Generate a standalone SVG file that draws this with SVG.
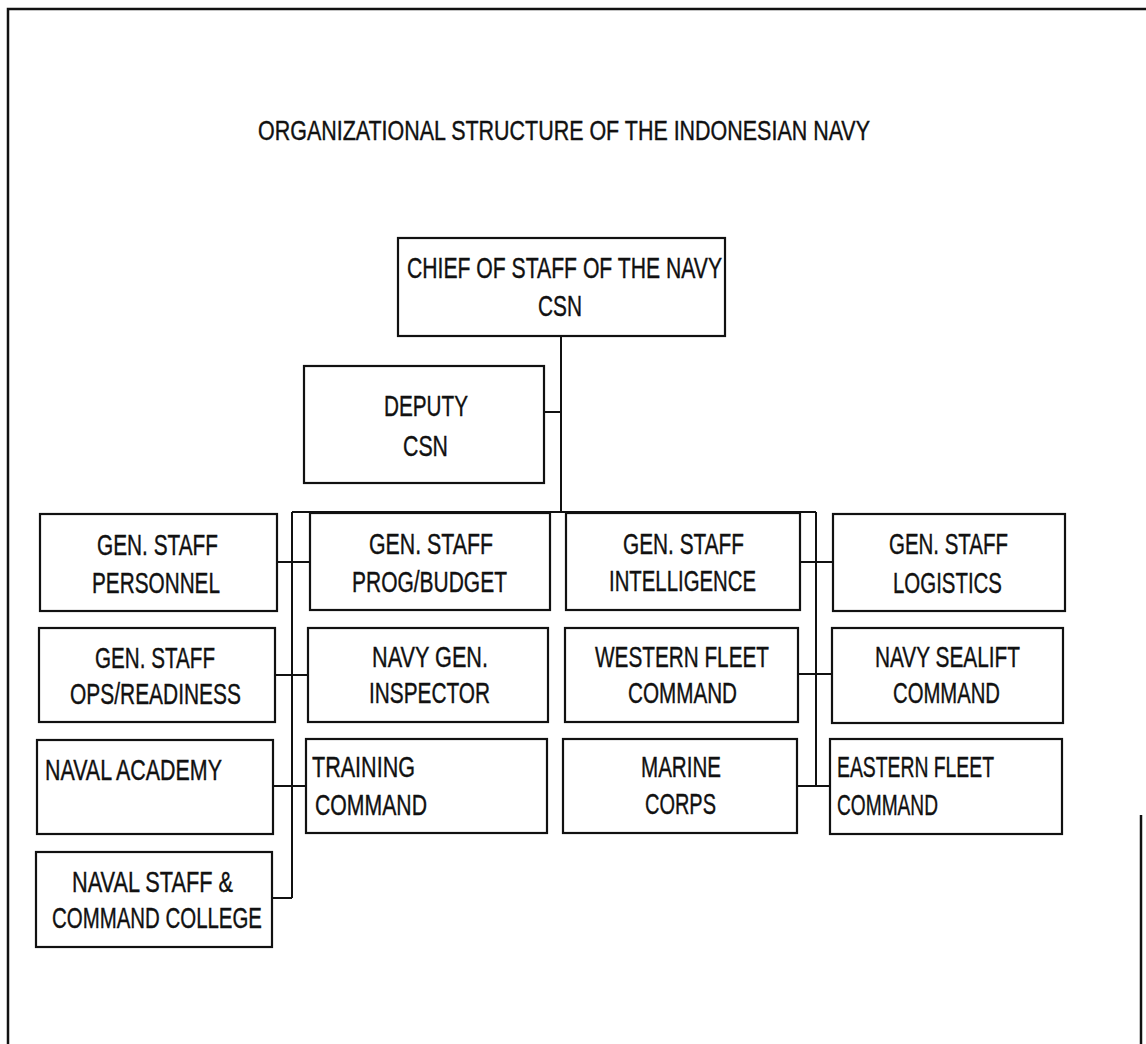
<svg xmlns="http://www.w3.org/2000/svg" width="1146" height="1044" viewBox="0 0 1146 1044">
<style>
.box{fill:#fff;stroke:#111;stroke-width:2.2}
.ln{fill:none;stroke:#111;stroke-width:2}
.fr{fill:none;stroke:#111;stroke-width:2.5}
text{font-family:"Liberation Sans Narrow","Liberation Sans",Arial,sans-serif;font-size:30px;fill:#111;stroke:#111;stroke-width:0.4}
</style>
<rect width="1146" height="1044" fill="#fff"/>
<g id="frame">
<path class="fr" d="M8,1044 V9 H1146"/>
<path class="fr" d="M1141,815 V1044"/>
</g>
<g id="title"><text x="258" y="140" textLength="612" lengthAdjust="spacingAndGlyphs" style="font-size:28px">ORGANIZATIONAL STRUCTURE OF THE INDONESIAN NAVY</text></g>
<g id="connectors">
<path class="ln" d="M561,336 V512"/>
<path class="ln" d="M544,412 H561"/>
<path class="ln" d="M292,512 H816"/>
<path class="ln" d="M292,512 V898"/>
<path class="ln" d="M816,512 V786"/>
<path class="ln" d="M277,562 H310"/>
<path class="ln" d="M275,675 H308"/>
<path class="ln" d="M273,786 H306"/>
<path class="ln" d="M272,898 H292"/>
<path class="ln" d="M800,562 H833"/>
<path class="ln" d="M798,674 H832"/>
<path class="ln" d="M797,786 H830"/>
</g>
<g id="csn"><rect class="box" x="398" y="238" width="327" height="98"/>
<text x="407" y="278" textLength="315" lengthAdjust="spacingAndGlyphs">CHIEF OF STAFF OF THE NAVY</text>
<text x="538" y="316" textLength="44" lengthAdjust="spacingAndGlyphs">CSN</text></g>
<g id="deputy"><rect class="box" x="304" y="366" width="240" height="117"/>
<text x="384" y="416" textLength="84" lengthAdjust="spacingAndGlyphs">DEPUTY</text>
<text x="403" y="456" textLength="45" lengthAdjust="spacingAndGlyphs">CSN</text></g>
<g id="personnel"><rect class="box" x="40" y="514" width="237" height="97"/>
<text x="97" y="555" textLength="121" lengthAdjust="spacingAndGlyphs">GEN. STAFF</text>
<text x="92" y="593" textLength="128" lengthAdjust="spacingAndGlyphs">PERSONNEL</text></g>
<g id="progbudget"><rect class="box" x="310" y="513" width="240" height="97"/>
<text x="369" y="554" textLength="124" lengthAdjust="spacingAndGlyphs">GEN. STAFF</text>
<text x="352" y="592" textLength="155" lengthAdjust="spacingAndGlyphs">PROG/BUDGET</text></g>
<g id="intelligence"><rect class="box" x="566" y="513" width="234" height="97"/>
<text x="623" y="554" textLength="121" lengthAdjust="spacingAndGlyphs">GEN. STAFF</text>
<text x="609" y="591" textLength="147" lengthAdjust="spacingAndGlyphs">INTELLIGENCE</text></g>
<g id="logistics"><rect class="box" x="833" y="514" width="232" height="97"/>
<text x="889" y="554" textLength="119" lengthAdjust="spacingAndGlyphs">GEN. STAFF</text>
<text x="893" y="593" textLength="109" lengthAdjust="spacingAndGlyphs">LOGISTICS</text></g>
<g id="opsreadiness"><rect class="box" x="39" y="628" width="236" height="94"/>
<text x="95" y="668" textLength="120" lengthAdjust="spacingAndGlyphs">GEN. STAFF</text>
<text x="70" y="704" textLength="171" lengthAdjust="spacingAndGlyphs">OPS/READINESS</text></g>
<g id="inspector"><rect class="box" x="308" y="628" width="240" height="94"/>
<text x="372" y="667" textLength="116" lengthAdjust="spacingAndGlyphs">NAVY GEN.</text>
<text x="369" y="703" textLength="121" lengthAdjust="spacingAndGlyphs">INSPECTOR</text></g>
<g id="westernfleet"><rect class="box" x="565" y="628" width="233" height="94"/>
<text x="595" y="667" textLength="174" lengthAdjust="spacingAndGlyphs">WESTERN FLEET</text>
<text x="628" y="703" textLength="109" lengthAdjust="spacingAndGlyphs">COMMAND</text></g>
<g id="sealift"><rect class="box" x="832" y="628" width="231" height="95"/>
<text x="875" y="667" textLength="145" lengthAdjust="spacingAndGlyphs">NAVY SEALIFT</text>
<text x="893" y="703" textLength="107" lengthAdjust="spacingAndGlyphs">COMMAND</text></g>
<g id="academy"><rect class="box" x="37" y="740" width="236" height="94"/>
<text x="45" y="780" textLength="177" lengthAdjust="spacingAndGlyphs">NAVAL ACADEMY</text></g>
<g id="training"><rect class="box" x="306" y="739" width="241" height="94"/>
<text x="312" y="777" textLength="103" lengthAdjust="spacingAndGlyphs">TRAINING</text>
<text x="315" y="815" textLength="112" lengthAdjust="spacingAndGlyphs">COMMAND</text></g>
<g id="marine"><rect class="box" x="563" y="739" width="234" height="94"/>
<text x="641" y="777" textLength="80" lengthAdjust="spacingAndGlyphs">MARINE</text>
<text x="645" y="814" textLength="71" lengthAdjust="spacingAndGlyphs">CORPS</text></g>
<g id="easternfleet"><rect class="box" x="830" y="739" width="232" height="95"/>
<text x="837" y="777" textLength="157" lengthAdjust="spacingAndGlyphs">EASTERN FLEET</text>
<text x="837" y="815" textLength="101" lengthAdjust="spacingAndGlyphs">COMMAND</text></g>
<g id="college"><rect class="box" x="36" y="852" width="236" height="95"/>
<text x="72" y="892" textLength="161" lengthAdjust="spacingAndGlyphs">NAVAL STAFF &amp;</text>
<text x="52" y="928" textLength="210" lengthAdjust="spacingAndGlyphs">COMMAND COLLEGE</text></g>
</svg>
